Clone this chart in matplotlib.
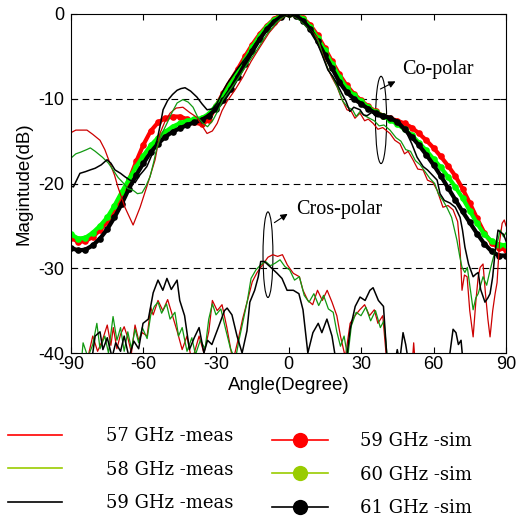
import numpy as np
import matplotlib
matplotlib.use('Agg')
import matplotlib.pyplot as plt
from matplotlib.patches import Ellipse
from matplotlib.lines import Line2D

plt.rcParams['font.family'] = 'Liberation Sans'
plt.rcParams['axes.unicode_minus'] = False

# -----------------------------
# data
# -----------------------------
sim_angles = np.arange(-90, 91, 3)

sim_59 = [-26.4, -26.9, -26.8, -26.3, -25.5, -24.5, -23.2, -21.6, -19.6, -17.4, -15.4,
          -13.8, -12.8, -12.3, -12.1, -12.1, -12.4, -12.8, -13.0, -12.5, -10.9, -9.3,
          -7.9, -6.5, -5.0, -3.6, -2.4, -1.4, -0.6, -0.1, 0.0,
          -0.1, -0.5, -1.3, -2.5, -4.0, -5.6, -7.1, -8.4, -9.4, -10.2, -10.9, -11.5,
          -12.0, -12.3, -12.6, -12.9, -13.4, -14.1, -14.9, -15.8, -16.8, -17.9, -19.1,
          -20.6, -22.3, -24.1, -25.8, -27.0, -27.6, -27.8]
sim_60 = [-26.0, -26.5, -26.4, -25.8, -25.0, -24.0, -22.6, -21.0, -19.5, -18.0, -16.7,
          -15.5, -14.6, -13.9, -13.3, -12.9, -12.6, -12.4, -12.3, -11.8, -10.8, -9.6,
          -8.3, -6.9, -5.4, -3.9, -2.6, -1.5, -0.7, -0.2, 0.0,
          -0.1, -0.6, -1.5, -2.8, -4.3, -5.9, -7.4, -8.7, -9.6, -10.3, -11.0, -11.6,
          -12.0, -12.5, -13.0, -13.6, -14.3, -15.2, -16.1, -17.1, -18.1, -19.2, -20.4,
          -21.7, -23.2, -24.7, -26.0, -26.8, -27.2, -27.3]
sim_61 = [-27.6, -27.9, -27.8, -27.3, -26.5, -25.4, -24.0, -22.4, -20.6, -19.0, -17.6,
          -16.3, -15.3, -14.5, -13.9, -13.5, -13.1, -12.8, -12.5, -12.0, -11.2, -10.2,
          -8.9, -7.4, -5.9, -4.4, -3.0, -1.8, -0.9, -0.3, 0.0,
          -0.2, -0.8, -1.8, -3.2, -4.8, -6.4, -8.0, -9.2, -10.0, -10.6, -11.2, -11.7,
          -12.0, -12.3, -12.7, -13.6, -14.5, -15.5, -16.6, -17.8, -19.1, -20.5, -21.9,
          -23.3, -24.6, -25.9, -27.1, -28.0, -28.5, -28.5]

# measured co-polar (angle, dB)
co_57 = np.array([
    (-90, -14.0), (-88, -13.7), (-86, -13.7), (-83.4, -13.7), (-81, -14.2), (-78, -14.9),
    (-76, -16.0), (-73.9, -17.6), (-72, -19.0), (-70.6, -20.4), (-67.7, -22.8), (-64.3, -24.9),
    (-61.4, -22.8), (-58.1, -19.9), (-55.2, -17.2), (-53.2, -14.1), (-51, -12.6), (-49, -11.7),
    (-46.5, -11.1), (-43.7, -11.0), (-41, -11.6), (-37.9, -12.2), (-35.5, -13.3), (-33.7, -14.1),
    (-31.5, -13.8), (-29.5, -12.9), (-27.5, -11.4), (-25.4, -10.3), (-22, -8.9), (-18.8, -7.4),
    (-15.5, -5.6), (-11.8, -3.9), (-8, -2.2), (-4.7, -1.1), (-2, -0.3), (0, 0), (2.5, -0.3),
    (4.8, -0.7), (7, -1.3), (9, -1.9), (11.8, -2.7), (13.5, -4.2), (15.9, -6.2), (18, -7.5),
    (20.1, -8.6), (22, -10.0), (24.2, -11.3), (26, -11.5), (27.5, -12.3), (29.6, -11.7),
    (31.5, -12.6), (33, -12.4), (35, -12.9), (37, -13.6), (39, -13.4), (42, -14.1), (44, -14.9),
    (46.1, -15.3), (48, -16.5), (49.5, -16.2), (51.5, -17.2), (53.5, -18.3), (55.7, -18.4),
    (57.5, -19.6), (59.8, -19.9), (61.5, -20.8), (63.9, -22.8), (66, -22.6), (68.1, -23.1),
    (70, -24.5), (71, -27.8), (71.8, -32.6), (72.8, -30.8), (73.9, -31), (75, -35), (76.4, -38.1),
    (77.5, -34), (78.5, -31), (79.3, -29.9), (80.5, -29.5), (81.5, -33), (82.5, -36), (83.4, -38.1),
    (84.5, -35), (85.5, -33), (86.3, -31.7), (87.3, -27), (88.4, -24.7), (89.3, -24.3), (90, -25)])
co_58 = np.array([
    (-90, -17.0), (-88, -16.5), (-86, -16.3), (-83.5, -16.0), (-82, -15.8), (-80, -16.2),
    (-77, -16.9), (-74.5, -17.6), (-72.6, -18.4), (-70.5, -19.3), (-68.5, -19.9), (-66.5, -20.6),
    (-64.3, -20.8), (-62.5, -21.2), (-60.6, -21.1), (-59, -20.3), (-57.3, -19.2), (-55.8, -17.5),
    (-54.4, -15.7), (-52.5, -14.2), (-50.3, -12.9), (-48, -11.5), (-46.1, -10.5), (-43.7, -10.1),
    (-41.5, -10.4), (-39.5, -11.0), (-37.5, -12.2), (-35.4, -12.9), (-33.5, -13.3), (-31.2, -12.5),
    (-29, -11.3), (-27.1, -10.1), (-24.5, -9.1), (-21.3, -7.8), (-17, -5.9), (-13, -4.2),
    (-9, -2.4), (-5, -1.0), (-2, -0.3), (0, 0), (2.5, -0.3), (5, -0.8), (7.5, -1.5), (10, -2.2),
    (12.5, -3.3), (14.5, -5.2), (16.5, -6.6), (18.5, -7.6), (20.5, -8.8), (22.5, -10.3),
    (24.5, -11.0), (26.5, -11.3), (28, -12.1), (29.6, -11.5), (31.5, -12.0), (33.5, -12.3),
    (35.5, -12.6), (37.5, -13.2), (39.5, -13.1), (42, -13.7), (44.5, -14.6), (46.5, -15.0),
    (48.5, -16.0), (50.5, -16.2), (52.5, -17.3), (54.5, -17.8), (56.5, -18.6), (58.5, -19.4),
    (60.5, -20.0), (62, -21.2), (63.9, -22), (65.5, -22.8), (67.5, -24.0), (69.7, -26.7),
    (70.8, -28.5), (71.8, -29.9), (73, -30.5), (74, -29.9), (75, -32), (76.4, -34.9),
    (77.5, -33.5), (78.5, -33), (79.5, -32), (80.5, -31), (82, -32), (83.2, -30.5), (84.5, -29),
    (86, -27.5), (87.6, -25.5), (89, -26.3), (90, -25.8)])
co_59 = np.array([
    (-90, -20.3), (-89, -20.4), (-88, -19.8), (-86.3, -18.8), (-84, -18.6), (-82.1, -18.4),
    (-80, -18.2), (-77.5, -17.8), (-75.1, -17.2), (-73.5, -17.6), (-71.8, -18.4), (-69.5, -18.8),
    (-67.7, -19.2), (-65.6, -19.6), (-63.5, -19.9), (-61.5, -19.0), (-60, -18.5), (-58.6, -18.0),
    (-56.5, -16.6), (-54.4, -14.9), (-53, -13.0), (-51.9, -11.3), (-50, -10.2), (-48, -9.5),
    (-46.1, -9.0), (-44.5, -8.8), (-42.8, -8.7), (-40.5, -9.1), (-37.9, -9.8), (-35.8, -10.6),
    (-33.7, -11.3), (-31.5, -11.2), (-29.5, -10.5), (-27.5, -9.3), (-25.4, -8.2), (-21.5, -6.6),
    (-17.2, -5.0), (-13.8, -3.5), (-10.5, -2.3), (-7, -1.2), (-3.5, -0.4), (0, 0), (3, -0.3),
    (5.5, -0.8), (8, -1.5), (10.1, -2.3), (12.3, -3.7), (14.3, -5.1), (16.3, -6.6), (18.4, -7.4),
    (20.2, -8.3), (22.1, -9.4), (23.8, -10.3), (25.4, -11.5), (27, -11.0), (29.6, -11.3),
    (31, -11.9), (32.5, -12.0), (34.5, -11.6), (36.5, -12.1), (39, -12.2), (41, -12.0),
    (43, -12.4), (44.9, -12.5), (47, -13.2), (49, -14.1), (51, -15.3), (53.2, -16.9),
    (55.7, -18.0), (57.5, -18.4), (59.5, -19.0), (61.5, -19.6), (62.7, -21.2), (64.5, -22.0),
    (66.8, -22.3), (69, -22.8), (71, -24.0), (72, -25.5), (73, -27.5), (74.5, -29.5),
    (76.4, -31), (77.5, -30.7), (78.5, -30.5), (79.5, -32.5), (81.3, -34), (82.5, -33.5),
    (83.4, -33), (84.5, -31), (85.5, -28), (86.7, -25.5), (88, -25.8), (89, -26), (90, -26.8)])

# measured cross-polar (angle, dB); nan breaks the trace
cx_57 = np.array([
    (-85, -42), (-83, -40.5), (-81, -38), (-79, -39.8), (-77, -38.5), (-75, -36.7), (-73.5, -39.1),
    (-72.5, -37.0), (-71, -39.5), (-69.5, -37.8), (-68, -36.9), (-66.5, -38.2), (-65, -40),
    (-63.5, -36.7), (-62, -38.5), (-60.5, -37.6), (-58.5, -38.0), (-57, -34.6), (-56, -35.5),
    (-54, -33.8), (-52, -35.0), (-50, -33.7), (-48, -35.6), (-46, -37.5), (-44, -39.6), (-42, -38.0),
    (-40, -41), (-38.5, -39.5), (-37, -38), (-35, -40), (-33, -37.5), (-31.5, -33.8), (-29.5, -35.0),
    (-27.5, -34.3), (-25.5, -37.0), (-23, -41), (-20.5, -38), (-19, -36), (-16.5, -33.3),
    (-15, -31.6), (-13, -30.5), (-10.5, -29.5), (-8.5, -28.7), (-6.5, -28.4), (-4.5, -28.6),
    (-2.5, -28.4), (-0.5, -29.6), (2, -30.6), (4.5, -31.0), (6, -32.6), (8, -33.8), (10, -34.3),
    (12, -32.6), (14, -33.8), (16, -32.6), (18, -34.0), (20, -35.6), (21.5, -38.0), (23.5, -40.5),
    (25.5, -36.5), (27.5, -35.6), (29.5, -34.9), (31.5, -34.3), (33.5, -35.6), (35.5, -34.9),
    (37, -36.5), (39, -35.6), (40.5, -40.5), (42, -42), (np.nan, np.nan),
    (51, -42), (51.8, -38.8), (52.6, -42)])
cx_58 = np.array([
    (-86, -42), (-85, -38.8), (-83, -40.5), (-81, -39), (-79.3, -36.5), (-78, -39.5), (-76, -38),
    (-74.5, -40), (-72.6, -35.7), (-71, -38.5), (-69.5, -37), (-68, -39.8), (-66.5, -37.5),
    (-65, -39.5), (-63.5, -37.2), (-62, -38.8), (-60.5, -37), (-58.5, -38.3), (-57, -35.5),
    (-55.5, -34.5), (-54, -34.0), (-52.5, -35.3), (-50.5, -34.2), (-49, -36), (-47, -35.2),
    (-45.5, -38), (-44, -37), (-42, -39.8), (-40, -38.2), (-38.5, -40.2), (-36.5, -38.5),
    (-34.5, -39.5), (-33, -36), (-31.5, -34.2), (-30, -35.5), (-28, -34.8), (-26, -37.2),
    (-24, -39.5), (-22, -40.8), (-20.5, -38.5), (-19, -36.5), (-17, -33.8), (-15.5, -31.2),
    (-13.5, -30.2), (-11.5, -29.6), (-9.5, -29.2), (-7.5, -29.7), (-5.5, -29.4), (-3.5, -29.0),
    (-1.5, -29.8), (0.5, -30.2), (2.5, -31.4), (4.5, -31.0), (6.5, -33.2), (8.5, -34.0),
    (10.5, -33.0), (12.5, -34.4), (14.5, -33.2), (16.5, -34.8), (18.5, -35.2), (20, -37.5),
    (21.5, -39.2), (23, -38), (24.5, -40.5), (26, -36.8), (28, -35.2), (30, -35.6), (32, -34.6),
    (34, -36.2), (36, -35.0), (38, -37), (39.5, -36.2), (41, -41)])
cx_59 = np.array([
    (-82, -42), (-80, -38), (-78, -37.5), (-76.8, -39.6), (-75, -38.2), (-73, -40.5), (-71.5, -38.8),
    (-69.5, -39.8), (-68, -38), (-66, -40.5), (-64, -38.6), (-62, -39.5), (-60.2, -36.5),
    (-58, -36), (-56, -32.9), (-54, -31.4), (-52, -32.6), (-50.3, -31.2), (-48.5, -32.5),
    (-46.1, -31.4), (-45, -33.8), (-43, -35.6), (-41, -39.6), (-39, -38.2), (-37, -37), (-35, -40),
    (-33.5, -38.5), (-31.7, -39), (-28.8, -36.8), (-26.5, -35.0), (-25.4, -34.7), (-23.4, -35.5),
    (-21.3, -38), (-19.2, -40), (-17.2, -37.4), (-16, -34), (-14, -32.6), (-12.5, -31),
    (-11.5, -29.2), (-10, -29.2), (-7.7, -29.8), (-4.7, -30.6), (-2.7, -31.2), (-0.6, -32.6),
    (2, -32.6), (4.3, -33), (6, -34.9), (8, -40), (10.1, -37.6), (12.3, -36.5), (13.8, -37.6),
    (15.9, -36), (18, -38), (19.4, -40.5), (21, -42), (23.5, -42), (25.5, -37.2), (27.6, -34.5),
    (29.6, -33.4), (31.7, -33.8), (33.7, -32.6), (35, -32.3), (37.2, -33.8), (39.3, -34.5),
    (40.6, -40), (41.5, -42), (43.5, -42), (45, -39.6), (46, -41), (47.4, -37.6), (48.5, -39),
    (49.6, -41), (51, -42), (np.nan, np.nan),
    (65.5, -42), (66.8, -40), (68.1, -37.2), (69.3, -37.6), (70.3, -39), (71.4, -38.5), (72.5, -42)])

legend_meas = ['57 GHz -meas', '58 GHz -meas', '59 GHz -meas']
legend_sim = ['59 GHz -sim', '60 GHz -sim', '61 GHz -sim']

# -----------------------------
# plot
# -----------------------------
fig = plt.figure(figsize=(5.16, 5.21), dpi=100)
ax = fig.add_axes([71 / 516, 1 - 353 / 521, 435 / 516, 339 / 521])

sim_kw = dict(lw=3, marker='o', ms=4.8, mew=0)
ax.plot(sim_angles, sim_59, color='#ff0000', **sim_kw)
ax.plot(sim_angles, sim_60, color='#00ff00', **sim_kw)
ax.plot(sim_angles, sim_61, color='black', **sim_kw)

meas_colors = ['#cc0000', '#119911', 'black']
for d, c in zip([co_57, co_58, co_59], meas_colors):
    ax.plot(d[:, 0], d[:, 1], color=c, lw=1.1 if c == 'black' else 0.9)
for d, c in zip([cx_57, cx_58, cx_59], meas_colors):
    ax.plot(d[:, 0], d[:, 1], color=c, lw=1.1 if c == 'black' else 0.9)

for yv in [-10, -20, -30]:
    ax.axhline(yv, color='black', lw=0.8, ls=(0, (6, 4)), zorder=0)

ax.set_xlim(-90, 90)
ax.set_ylim(-40, 0)
ax.set_xticks([-90, -60, -30, 0, 30, 60, 90])
ax.set_yticks([-40, -30, -20, -10, 0])
ax.tick_params(direction='in', top=True, right=True, length=4, labelsize=13)
ax.tick_params(axis='y', pad=5)
ax.tick_params(axis='x', pad=2)
ax.set_xlabel('Angle(Degree)', fontsize=13.5, labelpad=3)
ax.set_ylabel('Magintude(dB)', fontsize=13.5, labelpad=4)

# annotations
ax.add_patch(Ellipse((38.3, -12.5), 4.6, 10.3, fill=False, lw=0.8, color='black'))
ax.annotate('', xy=(45.3, -7.8), xytext=(37.0, -9.0),
            arrowprops=dict(arrowstyle='-|>', color='black', lw=0.8, mutation_scale=10))
ax.text(47.2, -6.6, 'Co-polar', fontsize=14.5, family='Liberation Serif', va='center')

ax.add_patch(Ellipse((-8.5, -28.4), 4.1, 10.1, fill=False, lw=0.8, color='black'))
ax.annotate('', xy=(0.6, -23.4), xytext=(-6.8, -24.8),
            arrowprops=dict(arrowstyle='-|>', color='black', lw=0.8, mutation_scale=10))
ax.text(3.3, -23.1, 'Cros-polar', fontsize=14.5, family='Liberation Serif', va='center')

# legend
left_handles = [Line2D([], [], color='#ff0000', lw=1.2),
                Line2D([], [], color='#99cc00', lw=1.2),
                Line2D([], [], color='black', lw=1.2)]
right_handles = [Line2D([], [], color=c, lw=1.2, marker='o', ms=11, mew=0)
                 for c in ['#ff0000', '#99cc00', 'black']]
leg_font = dict(family='DejaVu Serif', size=13)
fig.legend(left_handles, legend_meas,
           loc='upper left', bbox_to_anchor=(8 / 516, 1 - 427 / 521), frameon=False,
           prop=leg_font, handlelength=3.0, handletextpad=2.4, labelspacing=0.86,
           borderpad=0, borderaxespad=0)
fig.legend(right_handles, legend_sim,
           loc='upper left', bbox_to_anchor=(272 / 516, 1 - 432 / 521), frameon=False,
           prop=leg_font, handlelength=3.1, handletextpad=1.8, labelspacing=0.86,
           borderpad=0, borderaxespad=0)

fig.savefig('out.png', dpi=100)
